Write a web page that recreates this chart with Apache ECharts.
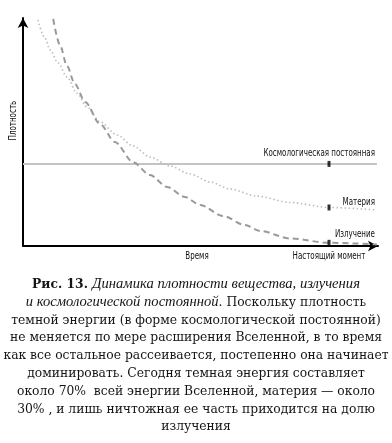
<!DOCTYPE html>
<html><head><meta charset="utf-8">
<script src="https://cdn.jsdelivr.net/npm/echarts@6/dist/echarts.min.js"></script>
<style>html,body{margin:0;padding:0;background:#fff}#c{width:392px;height:443px}</style>
</head><body><div id="c"></div>
<script>
// Time points (arbitrary units) and densities (arbitrary units)
const matterX = [4.2, 6.2, 7.6, 9.9, 12.4, 15.2, 18.0, 21.7, 26.5, 31.0, 35.8, 41.4, 47.0, 52.7, 58.3, 65.9, 75.2, 86.2, 99.7];
const matterY = [99.1, 91.2, 86.0, 80.3, 74.1, 67.1, 61.0, 54.4, 48.7, 43.9, 39.0, 35.1, 31.6, 28.1, 25.0, 21.9, 19.1, 16.9, 15.8];
const radX = [8.5, 10.4, 12.4, 14.6, 17.5, 21.7, 25.9, 31.0, 35.8, 40.6, 45.6, 49.9, 56.3, 62.5, 66.8, 75.2, 86.2, 99.7];
const radY = [99.6, 88.2, 78.9, 71.1, 63.2, 53.5, 45.6, 36.8, 31.1, 25.9, 21.5, 18.0, 13.2, 9.2, 6.6, 3.3, 1.4, 0.7];
const constX = [0, 99.7];
const constY = [36, 36];
const presentX = 86.2;
const timeLabelX = 49;
const xTickValues = [timeLabelX, presentX];
const xTickLabels = ['Время', 'Настоящий момент'];
const seriesNames = ['Космологическая постоянная', 'Материя', 'Излучение'];
const yName = 'Плотность';
const yNameAt = 55;
const captionLines = [
  [['b', 'Рис. 13. '], ['i', 'Динамика плотности вещества, излучения']],
  [['i', 'и космологической постоянной'], ['n', '. Поскольку плотность']],
  [['n', 'темной энергии (в форме космологической постоянной)']],
  [['n', 'не меняется по мере расширения Вселенной, в то время']],
  [['n', 'как все остальное рассеивается, постепенно она начинает']],
  [['n', 'доминировать. Сегодня темная энергия составляет']],
  [['n', 'около 70%  всей энергии Вселенной, материя — около']],
  [['n', '30% , и лишь ничтожная ее часть приходится на долю']],
  [['n', 'излучения']]
];

const zip = (xs, ys) => xs.map((x, i) => [x, ys[i]]);
const presentIdxM = matterX.indexOf(presentX);
const presentIdxR = radX.indexOf(presentX);
const markers = [[presentX, constY[0]], [presentX, matterY[presentIdxM]], [presentX, radY[presentIdxR]]];

const labelFont = "'DejaVu Sans Condensed', 'DejaVu Sans', sans-serif";
const labelSize = 10;
const labelScale = 0.79;
const labelColor = '#111';
const capFont = "'DejaVu Serif Condensed', 'DejaVu Serif', serif";
const capItalicFont = "'Liberation Serif', serif";
const capSize = 13.7;
const capLH = 17;
const capColor = '#151515';
const rich = {
  b: {fontFamily: capFont, fontSize: capSize, fontWeight: 'bold', fill: capColor, lineHeight: capLH},
  i: {fontFamily: capItalicFont, fontSize: 14.6, fontStyle: 'italic', fill: capColor, lineHeight: capLH},
  n: {fontFamily: capFont, fontSize: capSize, fill: capColor, lineHeight: capLH}
};
const captionGraphics = captionLines.map((ln, k) => ({
  type: 'text', left: 'center', top: 276 + k * 17.8,
  style: {
    text: ln.map(([s, t]) => '{' + s + '|' + t + '}').join(''),
    rich: rich, fontFamily: capFont, fontSize: capSize, fill: capColor, lineHeight: capLH
  }
}));

const chart = echarts.init(document.getElementById('c'), null, {renderer: 'canvas'});
chart.setOption({
  animation: false,
  backgroundColor: '#fff',
  grid: {left: 23, top: 18, width: 355, height: 228},
  xAxis: {
    type: 'value', min: 0, max: 100,
    axisLine: {show: true, lineStyle: {color: '#000', width: 2}, symbol: ['none', 'arrow'], symbolSize: [8, 10]},
    axisTick: {show: false}, splitLine: {show: false}, axisLabel: {show: false}
  },
  yAxis: {
    type: 'value', min: 0, max: 100,
    axisLine: {show: true, lineStyle: {color: '#000', width: 2}, symbol: ['none', 'arrow'], symbolSize: [8, 10]},
    axisTick: {show: false}, splitLine: {show: false}, axisLabel: {show: false}
  },
  series: [
    {name: seriesNames[0], type: 'line', data: zip(constX, constY), showSymbol: false,
      lineStyle: {color: '#c4c4c4', width: 2}, z: 2},
    {name: seriesNames[1], type: 'line', data: zip(matterX, matterY), smooth: 0.3, smoothMonotone: 'x', showSymbol: false,
      lineStyle: {color: '#bdbdbd', width: 1.6, type: [1.5, 2.5]}, z: 2},
    {name: seriesNames[2], type: 'line', data: zip(radX, radY), smooth: 0.3, smoothMonotone: 'x', showSymbol: false,
      lineStyle: {color: '#9a9a9a', width: 2, type: [6, 4]}, z: 2},
    {type: 'scatter', data: markers, symbol: 'rect', symbolSize: [3, 6],
      itemStyle: {color: '#000'}, z: 5, silent: true}
  ]
});

// Labels placed from data coordinates through the chart's own scales
const px = (p) => chart.convertToPixel({gridIndex: 0}, p);
const lab = (text, p, align, vAlign, dx, dy, rot) => ({
  type: 'text', x: p[0] + dx, y: p[1] + dy, rotation: rot || 0,
  scaleX: labelScale, scaleY: 1,
  style: {text: text, fontFamily: labelFont, fontSize: labelSize, fill: labelColor, align: align, verticalAlign: vAlign}
});
const endC = px([constX[constX.length - 1], constY[constY.length - 1]]);
const endM = px([matterX[matterX.length - 1], matterY[matterY.length - 1]]);
const endR = px([radX[radX.length - 1], radY[radY.length - 1]]);
const labelGraphics = [
  lab(seriesNames[0], endC, 'right', 'bottom', -2, -6),
  lab(seriesNames[1], endM, 'right', 'bottom', -2, -3),
  lab(seriesNames[2], endR, 'right', 'bottom', -2, -5),
  lab(xTickLabels[0], px([xTickValues[0], 0]), 'center', 'top', 0, 5),
  lab(xTickLabels[1], px([xTickValues[1], 0]), 'center', 'top', 0, 5),
  lab(yName, px([0, yNameAt]), 'center', 'middle', -10, 0, Math.PI / 2)
];
chart.setOption({graphic: captionGraphics.concat(labelGraphics)});
</script></body></html>
